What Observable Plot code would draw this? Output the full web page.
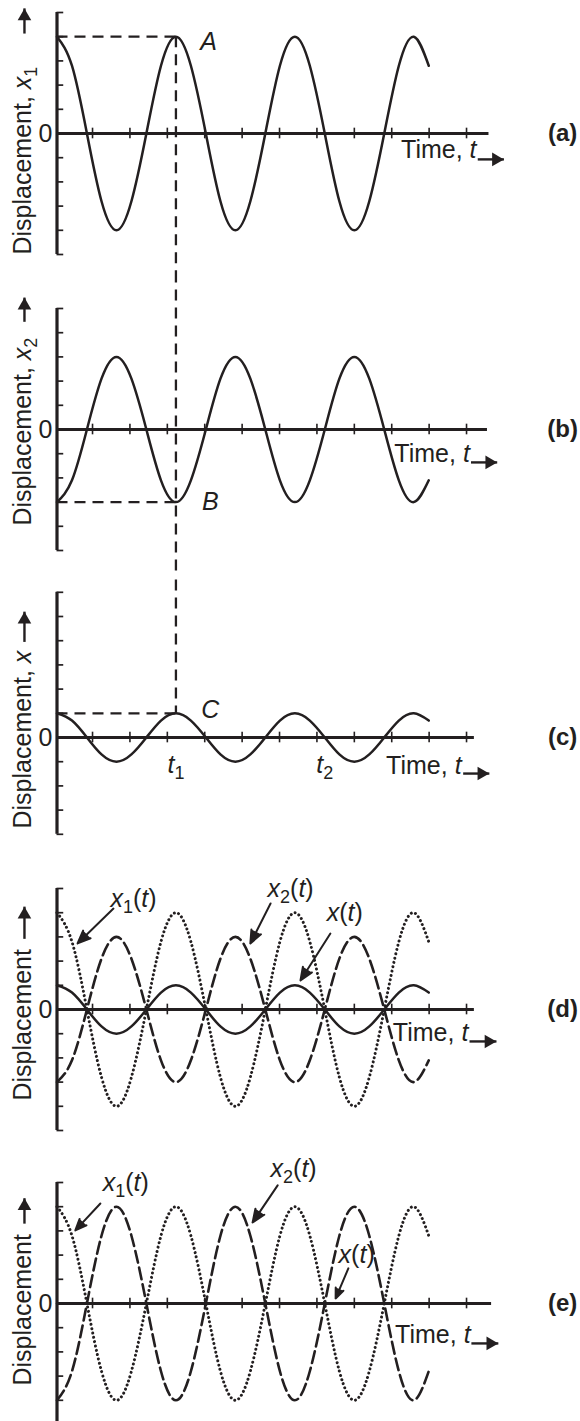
<!DOCTYPE html>
<html>
<head>
<meta charset="utf-8">
<script src="https://cdn.jsdelivr.net/npm/d3@7"></script>
<script src="https://cdn.jsdelivr.net/npm/@observablehq/plot@0.6"></script>
<style>
html, body { margin: 0; padding: 0; background: #fff; }
#chart { position: relative; width: 580px; height: 1421px; overflow: hidden; background: #fff; }
#chart svg { position: absolute; left: 0; }
</style>
</head>
<body>
<div id="chart"></div>
<script>
// ---------- data (time in tick units, displacement in axis-tick units) ----------
const times     = [0, 0.40, 0.80, 1.19, 1.59, 1.99, 2.39, 2.78, 3.18, 3.58, 3.98, 4.37, 4.77, 5.17, 5.57, 5.96, 6.36, 6.76, 7.16, 7.55, 7.95, 8.35, 8.75, 9.14, 9.54, 9.94];
const x1Values  = [4, 2.8, 0, -2.8, -4, -2.8, 0, 2.8, 4, 2.8, 0, -2.8, -4, -2.8, 0, 2.8, 4, 2.8, 0, -2.8, -4, -2.8, 0, 2.8, 4, 2.8];
const x2Values  = [-3, -2.1, 0, 2.1, 3, 2.1, 0, -2.1, -3, -2.1, 0, 2.1, 3, 2.1, 0, -2.1, -3, -2.1, 0, 2.1, 3, 2.1, 0, -2.1, -3, -2.1];
const xValues   = [1, 0.7, 0, -0.7, -1, -0.7, 0, 0.7, 1, 0.7, 0, -0.7, -1, -0.7, 0, 0.7, 1, 0.7, 0, -0.7, -1, -0.7, 0, 0.7, 1, 0.7];
const x2eValues = [-4, -2.8, 0, 2.8, 4, 2.8, 0, -2.8, -4, -2.8, 0, 2.8, 4, 2.8, 0, -2.8, -4, -2.8, 0, 2.8, 4, 2.8, 0, -2.8, -4, -2.8];
const xeValues  = [0, 0, 0, 0, 0, 0, 0, 0, 0, 0, 0, 0, 0, 0, 0, 0, 0, 0, 0, 0, 0, 0, 0, 0, 0, 0];
const timeTicks = [0.95, 1.95, 2.95, 3.95, 4.95, 5.95, 6.95, 7.95, 8.95, 9.95, 10.95];
const tA = 3.18;          // time of points A, B, C (t1)
const t2 = 7.16;          // time t2
const pointA = 4, pointB = -3, pointC = 1;

const INK = "#231f20";
const FONT = "'Liberation Sans', Arial, Helvetica, sans-serif";
const series = v => times.map((t, i) => ({t, v: v[i]}));

// ---------- per-panel annotations (data units) ----------
const panels = [
  { top: 0, height: 280, zero: 133, yMin: -5, yMax: 5, axisEnd: 11.55,
    curves: [{values: x1Values, style: "solid"}],
    labels: [
      {t: -0.91, y: -5, text: "Displacement, *x*_1", anchor: "start", rotate: -90},
      {t: -0.12, y: 0, text: "0", anchor: "end"},
      {t: 9.20, y: -0.70, text: "Time, *t*", anchor: "start"},
      {t: 13.52, y: 0, text: "(a)", anchor: "middle", bold: true},
      {t: 4.05, y: 3.78, text: "*A*", anchor: "middle"}
    ],
    up: {t: -0.87, y1: 4.13, y2: 5.17},
    right: {y: -1.07, t1: 11.25, t2: 11.95},
    guides: {h: pointA, v: [pointA, -8]},
    arrows: [] },
  { top: 280, height: 295, zero: 429, yMin: -5, yMax: 5, axisEnd: 11.51,
    curves: [{values: x2Values, style: "solid"}],
    labels: [
      {t: -0.91, y: -3.97, text: "Displacement, *x*_2", anchor: "start", rotate: -90},
      {t: -0.12, y: 0, text: "0", anchor: "end"},
      {t: 9.02, y: -1.03, text: "Time, *t*", anchor: "start"},
      {t: 13.52, y: 0, text: "(b)", anchor: "middle", bold: true},
      {t: 4.10, y: -3.0, text: "*B*", anchor: "middle"}
    ],
    up: {t: -0.87, y1: 4.45, y2: 5.45},
    right: {y: -1.36, t1: 11.07, t2: 11.77},
    guides: {h: pointB, v: [8, -8]},
    arrows: [] },
  { top: 575, height: 295, zero: 737, yMin: -4, yMax: 6, axisEnd: 11.16,
    curves: [{values: xValues, style: "solid"}],
    labels: [
      {t: -0.91, y: -3.76, text: "Displacement, *x*", anchor: "start", rotate: -90},
      {t: -0.12, y: 0, text: "0", anchor: "end"},
      {t: 8.80, y: -1.16, text: "Time, *t*", anchor: "start"},
      {t: 13.52, y: 0, text: "(c)", anchor: "middle", bold: true},
      {t: 4.10, y: 1.12, text: "*C*", anchor: "middle"},
      {t: tA, y: -1.12, text: "*t*_1", anchor: "middle"},
      {t: t2, y: -1.12, text: "*t*_2", anchor: "middle"}
    ],
    up: {t: -0.87, y1: 3.95, y2: 5.2},
    right: {y: -1.49, t1: 10.86, t2: 11.56},
    guides: {h: pointC, v: [8, pointC]},
    arrows: [] },
  { top: 870, height: 280, zero: 1009, yMin: -5, yMax: 5, axisEnd: 11.16,
    curves: [{values: x1Values, style: "dotted"}, {values: x2Values, style: "dashed"}, {values: xValues, style: "solid"}],
    labels: [
      {t: -0.91, y: -3.76, text: "Displacement", anchor: "start", rotate: -90},
      {t: -0.12, y: 0, text: "0", anchor: "end"},
      {t: 8.98, y: -0.99, text: "Time, *t*", anchor: "start"},
      {t: 13.52, y: 0, text: "(d)", anchor: "middle", bold: true},
      {t: 1.43, y: 4.55, text: "*x*_1(*t*)", anchor: "start"},
      {t: 5.63, y: 5.0, text: "*x*_2(*t*)", anchor: "start"},
      {t: 7.21, y: 4.0, text: "*x*(*t*)", anchor: "start"}
    ],
    up: {t: -0.87, y1: 2.92, y2: 4.25},
    right: {y: -1.32, t1: 11.03, t2: 11.75},
    guides: null,
    arrows: [
      {t1: 1.51, y1: 4.17, t2: 0.55, y2: 2.73},
      {t1: 5.71, y1: 4.38, t2: 5.17, y2: 2.73},
      {t1: 7.31, y1: 3.14, t2: 6.51, y2: 1.20}
    ] },
  { top: 1150, height: 271, zero: 1303, yMin: -5, yMax: 5, axisEnd: 11.62,
    curves: [{values: x1Values, style: "dotted"}, {values: x2eValues, style: "dashed"}, {values: xeValues, style: "solid"}],
    labels: [
      {t: -0.91, y: -3.39, text: "Displacement", anchor: "start", rotate: -90},
      {t: -0.12, y: 0, text: "0", anchor: "end"},
      {t: 9.04, y: -1.32, text: "Time, *t*", anchor: "start"},
      {t: 13.52, y: 0, text: "(e)", anchor: "middle", bold: true},
      {t: 1.22, y: 5.0, text: "*x*_1(*t*)", anchor: "start"},
      {t: 5.71, y: 5.55, text: "*x*_2(*t*)", anchor: "start"},
      {t: 7.53, y: 2.02, text: "*x*(*t*)", anchor: "start"}
    ],
    up: {t: -0.87, y1: 3.3, y2: 4.35},
    right: {y: -1.65, t1: 11.08, t2: 11.8},
    guides: null,
    arrows: [
      {t1: 1.16, y1: 4.13, t2: 0.49, y2: 3.02},
      {t1: 5.90, y1: 4.88, t2: 5.23, y2: 3.35},
      {t1: 7.79, y1: 1.45, t2: 7.45, y2: 0.21}
    ] }
];

// ---------- rich text (italic / subscript) ----------
const NS = "http://www.w3.org/2000/svg";
function rich(svg) {
  svg.querySelectorAll("text").forEach(el => {
    const s = el.textContent;
    if (!/[*_]/.test(s)) return;
    el.textContent = "";
    const re = /\*([^*]+)\*|_(\w)|([^*_]+)/g;
    let m, shift = 0;
    while ((m = re.exec(s))) {
      const ts = document.createElementNS(NS, "tspan");
      if (m[2]) {
        ts.textContent = m[2];
        ts.setAttribute("font-size", "18");
        ts.setAttribute("dy", "6");
        shift = 6;
      } else {
        ts.textContent = m[1] || m[3];
        if (m[1]) ts.setAttribute("font-style", "italic");
        if (shift) { ts.setAttribute("dy", String(-shift)); shift = 0; }
      }
      el.appendChild(ts);
    }
  });
}

const UX = 37.4, UY = 24.2, X0 = 56.5;
const styleFor = s => s === "dotted"
  ? {strokeWidth: 3, strokeDasharray: "0.01 4.4", strokeLinecap: "round"}
  : s === "dashed"
  ? {strokeWidth: 2.6, strokeDasharray: "12 5"}
  : {strokeWidth: 2.5};

for (const p of panels) {
  const z = p.zero - p.top;
  const marks = [];
  if (p.guides) {
    marks.push(Plot.ruleY([p.guides.h], {x1: 0, x2: tA, stroke: INK, strokeWidth: 2.3, strokeDasharray: "11 7"}));
    marks.push(Plot.ruleX([tA], {y1: p.guides.v[0], y2: p.guides.v[1], stroke: INK, strokeWidth: 2.3, strokeDasharray: "11 7"}));
  }
  // axes
  marks.push(Plot.ruleX([0], {y1: p.yMin, y2: p.yMax, stroke: INK, strokeWidth: 3.2}));
  marks.push(Plot.ruleY(d3.range(p.yMin, p.yMax + 1), {x1: 0, x2: 0.18, stroke: INK, strokeWidth: 1.7}));
  marks.push(Plot.ruleY([0], {x1: 0, x2: p.axisEnd, stroke: INK, strokeWidth: 3.2}));
  marks.push(Plot.ruleX(timeTicks, {y1: -0.22, y2: 0.22, stroke: INK, strokeWidth: 1.6}));
  // curves
  for (const c of p.curves) {
    marks.push(Plot.line(series(c.values), {x: "t", y: "v", curve: "natural", stroke: INK, ...styleFor(c.style)}));
  }
  // labels
  for (const d of p.labels) {
    marks.push(Plot.text([d], {
      x: "t", y: "y", text: "text", textAnchor: d.anchor, lineAnchor: "middle",
      rotate: d.rotate || 0, fontSize: d.bold ? 24 : 25, fontWeight: d.bold ? "bold" : "normal",
      fill: INK, fontFamily: FONT
    }));
  }
  // up arrow beside the y label
  marks.push(Plot.link([p.up], {x1: "t", x2: "t", y1: "y1", y2: "y2", stroke: INK, strokeWidth: 2.4}));
  marks.push(Plot.dot([p.up], {x: "t", y: "y2", symbol: "triangle2", r: 6.5, fill: INK, stroke: "none", dy: 7.86}));
  // right arrow after "Time, t"
  marks.push(Plot.link([p.right], {x1: "t1", x2: "t2", y1: "y", y2: "y", stroke: INK, strokeWidth: 2.4}));
  marks.push(Plot.dot([p.right], {x: "t2", y: "y", symbol: "triangle2", r: 6.5, rotate: 90, fill: INK, stroke: "none", dx: -7.86}));
  // pointer arrows
  if (p.arrows.length) {
    marks.push(Plot.arrow(p.arrows, {x1: "t1", y1: "y1", x2: "t2", y2: "y2", stroke: INK, fill: INK,
      strokeWidth: 2, headLength: 10.5, headAngle: 45}));
  }
  const svg = Plot.plot({
    width: 580, height: p.height, margin: 0,
    x: {domain: [0, 12], range: [X0, X0 + 12 * UX], axis: null},
    y: {domain: [p.yMin, p.yMax], range: [z - p.yMin * UY, z - p.yMax * UY], axis: null},
    style: {fontFamily: FONT, fontSize: "25px", color: INK, background: "transparent"},
    marks
  });
  svg.style.top = p.top + "px";
  rich(svg);
  document.getElementById("chart").append(svg);
}
</script>
</body>
</html>
